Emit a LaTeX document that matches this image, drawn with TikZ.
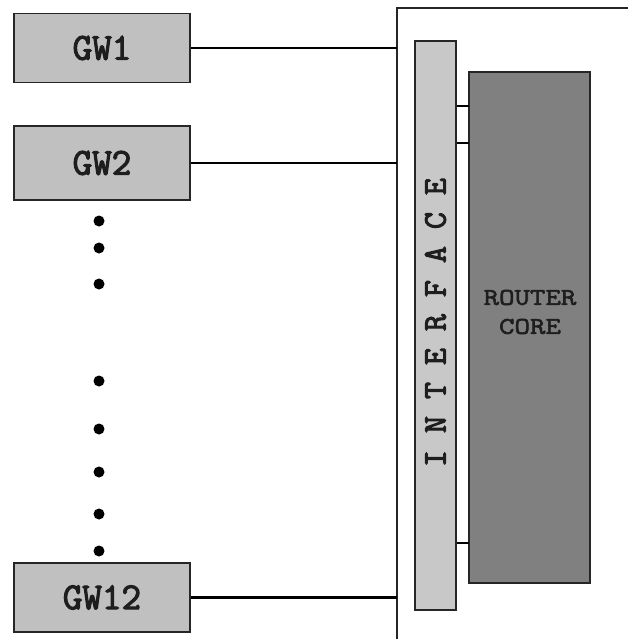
\documentclass[tikz,border=0pt]{standalone}
\usepackage{fontspec}
\newfontfamily\courb{Latin Modern Mono}[FakeBold=3]
\newfontfamily\courw{Latin Modern Mono}[FakeBold=2.5,FakeStretch=1.25]
\definecolor{gwfill}{HTML}{C0C0C0}
\definecolor{iffill}{HTML}{C8C8C8}
\definecolor{corefill}{HTML}{808080}
\definecolor{txt}{HTML}{1E1E1E}
\begin{document}
\begin{tikzpicture}[x=1pt,y=-1pt,
  gwbox/.style={draw=black!85,line width=1.6pt,fill=gwfill,minimum width=176pt,inner sep=0pt,
    font=\courb\fontsize{38}{38}\selectfont,text=txt},
  ifbox/.style={draw=black!85,line width=1.5pt,fill=iffill,minimum width=41pt,minimum height=569pt,inner sep=0pt},
  corebox/.style={draw=black!85,line width=1.5pt,fill=corefill,minimum width=121pt,minimum height=511pt,inner sep=0pt},
  link/.style={line width=2.4pt,black},
  frameline/.style={line width=1.4pt,black!85},
  dotnode/.style={circle,fill=black,inner sep=0pt,minimum size=11pt}]
\useasboundingbox (0,0) rectangle (628,639);
\fill[white] (0,0) rectangle (628,639);
% frame
\coordinate (ftop) at (397,8);
\coordinate (fbot) at (397,639);
\coordinate (fright) at (628,8);
\draw[frameline] (fbot) -- (ftop) -- (fright);
% gateways
\node[gwbox,minimum height=69pt] (gw1) at (102,48) {GW1};
\node[gwbox,minimum height=74pt] (gw2) at (102,163) {GW2};
\node[gwbox,minimum height=69pt] (gw12) at (102,597.5) {GW12};
\draw[link] (gw1.east) -- (gw1.east -| ftop);
\draw[link] (gw2.east) -- (gw2.east -| ftop);
\draw[link] (gw12.east) -- (gw12.east -| ftop);
% dots
\node[dotnode] (d1) at (99,221) {};
\node[dotnode] (d2) at (99,248) {};
\node[dotnode] (d3) at (99,284) {};
\node[dotnode] (d4) at (99,381) {};
\node[dotnode] (d5) at (99,429) {};
\node[dotnode] (d6) at (99,472) {};
\node[dotnode] (d7) at (99,514) {};
\node[dotnode] (d8) at (99,551) {};
% interface and core
\node[ifbox] (iface) at (435.5,325.5) {};
\node[corebox] (core) at (529.5,327.5) {};
\node[rotate=90,font=\courb\fontsize{33}{33}\selectfont,text=txt,inner sep=0pt] (iflabel) at (435.5,322.5) {I N T E R F A C E};
\node[align=center,font=\courw\fontsize{24}{29}\selectfont,text=txt,inner sep=0pt] (corelabel) at (530,312) {ROUTER\\CORE};
\coordinate (c1) at (469,106);
\coordinate (c2) at (469,143);
\coordinate (c3) at (469,543);
\draw[link,line width=2pt] (iface.east |- c1) -- (c1);
\draw[link,line width=2pt] (iface.east |- c2) -- (c2);
\draw[link,line width=2pt] (iface.east |- c3) -- (c3);
\end{tikzpicture}
\end{document}
